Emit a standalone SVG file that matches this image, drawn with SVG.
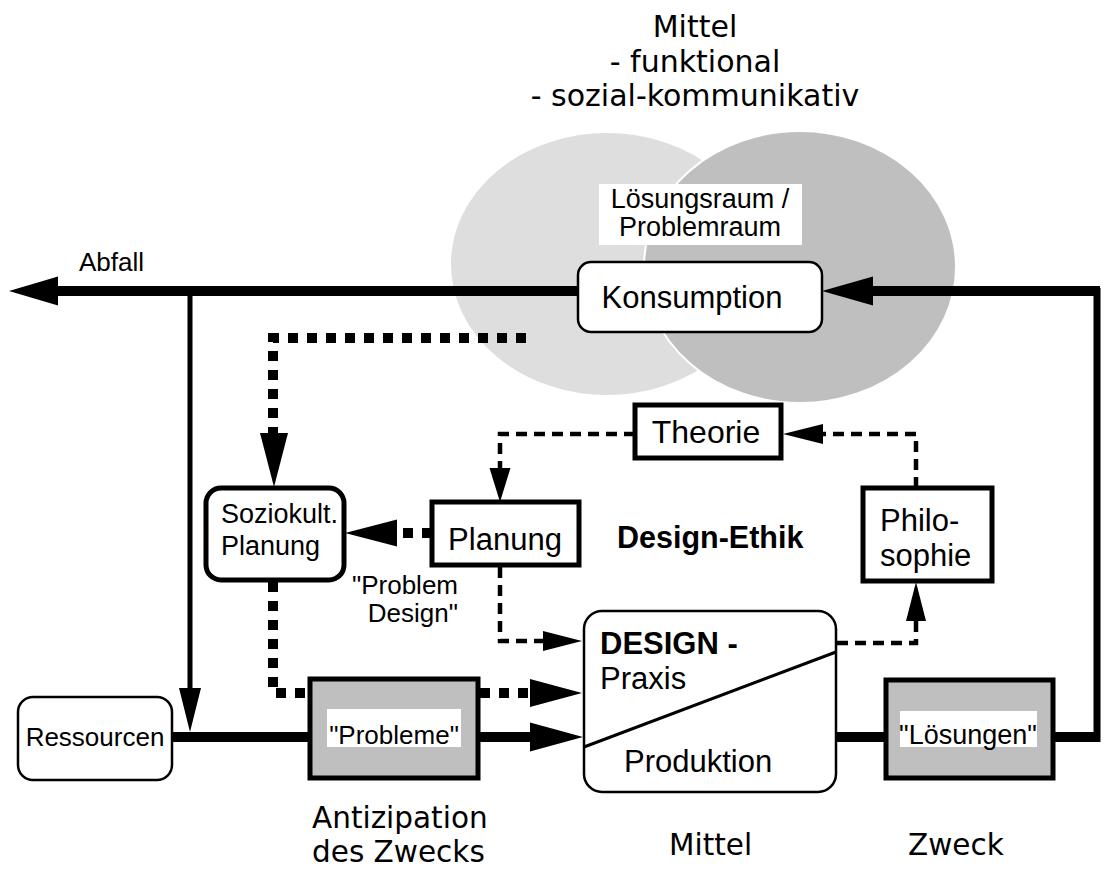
<svg xmlns="http://www.w3.org/2000/svg" width="1104" height="869" viewBox="0 0 1104 869">
<style>
.t{font-family:"Liberation Sans",Arial,sans-serif;fill:#000}
.g{font-family:"DejaVu Sans",sans-serif;font-size:30px;fill:#000}
.thick{fill:none;stroke:#000;stroke-width:10}
.dot{fill:none;stroke:#000;stroke-width:10;stroke-dasharray:10 9}
.dash{fill:none;stroke:#000;stroke-width:4.5;stroke-dasharray:11 7}
.box{fill:#fff;stroke:#000;stroke-width:5}
.rbox{fill:#fff;stroke:#000;stroke-width:2.5}
.gbox{fill:#bfbfbf;stroke:#000;stroke-width:5}
.ah{fill:#000}
</style>
<rect width="1104" height="869" fill="#fff"/>
<g id="title">
<text class="g" x="695" y="37" text-anchor="middle">Mittel</text>
<text class="g" x="695" y="72" text-anchor="middle">- funktional</text>
<text class="g" x="695" y="106" text-anchor="middle">- sozial-kommunikativ</text>
</g>
<g id="raum">
<ellipse cx="607" cy="264" rx="157" ry="132" fill="#dedede" stroke="#fff" stroke-width="2"/>
<ellipse cx="800" cy="267" rx="156" ry="136" fill="#bfbfbf" stroke="#fff" stroke-width="2"/>
<rect x="599" y="184" width="203" height="61" fill="#fff"/>
<text class="t" x="700" y="208" font-size="27" text-anchor="middle">Lösungsraum /</text>
<text class="t" x="700" y="236" font-size="27" text-anchor="middle">Problemraum</text>
</g>
<g id="connectors">
<path class="thick" d="M578,291 H58"/>
<polygon class="ah" points="9,291 58,276.5 58,305.5"/>
<text class="t" x="79" y="271" font-size="26">Abfall</text>
<path d="M190,291 V690" fill="none" stroke="#000" stroke-width="5"/>
<polygon class="ah" points="190,732 179,688 201,688"/>
<path class="thick" d="M172,737 H308"/>
<path class="thick" d="M478,737 H532"/>
<polygon class="ah" points="583,737 530,722.5 530,751.5"/>
<path class="thick" d="M836,737 H886"/>
<path class="thick" d="M1053,737 H1097"/>
<path d="M1097,742 V288" fill="none" stroke="#000" stroke-width="7"/>
<path class="thick" d="M1100,291 H871"/>
<polygon class="ah" points="822,291 873,276.5 873,305.5"/>
<path class="dot" d="M526,338 H273 V435"/>
<polygon class="ah" points="274,487 260,433 288,433"/>
<path class="dot" d="M432,533 H397"/>
<polygon class="ah" points="345,533 397,519.5 397,546.5"/>
<path class="dot" d="M273,582 V693 H310"/>
<path class="dot" d="M480,693 H530"/>
<polygon class="ah" points="582,693 530,679 530,707"/>
<path class="dash" d="M635,434 H500 V472"/>
<polygon class="ah" points="500,502 489.5,468 510.5,468"/>
<path class="dash" d="M916,488 V434 H821"/>
<polygon class="ah" points="783,434 823,424 823,444"/>
<path class="dash" d="M500,567 V641 H545"/>
<polygon class="ah" points="582,641 543,631 543,651"/>
<path class="dash" d="M837,643 H916 V619"/>
<polygon class="ah" points="916,582 906,621 926,621"/>
</g>
<g id="konsumption">
<rect class="rbox" x="578" y="262" width="244" height="70" rx="13" stroke-width="3"/>
<text class="t" x="692" y="308" font-size="31" text-anchor="middle">Konsumption</text>
</g>
<g id="theorie">
<rect class="box" x="635" y="405" width="146" height="53"/>
<text class="t" x="706" y="443" font-size="32" text-anchor="middle">Theorie</text>
</g>
<g id="planung">
<rect class="box" x="432" y="502" width="147" height="63"/>
<text class="t" x="505" y="550" font-size="31" text-anchor="middle">Planung</text>
</g>
<g id="soziokult">
<rect class="box" x="206" y="488" width="138" height="92" rx="15"/>
<text class="t" x="221" y="523" font-size="27">Soziokult.</text>
<text class="t" x="221" y="555" font-size="27">Planung</text>
</g>
<g id="problemdesign">
<text class="t" x="458" y="594" font-size="26" text-anchor="end">"Problem</text>
<text class="t" x="458" y="622" font-size="26" text-anchor="end">Design"</text>
</g>
<g id="ethik">
<text class="t" x="617" y="548" font-size="30.5" font-weight="bold">Design-Ethik</text>
</g>
<g id="philosophie">
<rect class="box" x="863" y="488" width="129" height="93"/>
<text class="t" x="880" y="531" font-size="31">Philo-</text>
<text class="t" x="880" y="566" font-size="31">sophie</text>
</g>
<g id="design">
<rect class="rbox" x="584" y="611" width="252" height="181" rx="18" stroke-width="3"/>
<line x1="584" y1="747" x2="836" y2="652" stroke="#000" stroke-width="3"/>
<text class="t" x="600" y="654" font-size="31" font-weight="bold">DESIGN -</text>
<text class="t" x="600" y="689" font-size="31">Praxis</text>
<text class="t" x="624" y="772" font-size="31">Produktion</text>
</g>
<g id="ressourcen">
<rect class="rbox" x="18" y="697" width="154" height="83" rx="15"/>
<text class="t" x="95" y="746" font-size="26" text-anchor="middle">Ressourcen</text>
</g>
<g id="probleme">
<rect class="gbox" x="310" y="679" width="168" height="99"/>
<rect x="327" y="709" width="134" height="38" fill="#fff"/>
<text class="t" x="394" y="744" font-size="26" text-anchor="middle">"Probleme"</text>
</g>
<g id="loesungen">
<rect class="gbox" x="886" y="680" width="167" height="98"/>
<rect x="900" y="711" width="137" height="36" fill="#fff"/>
<text class="t" x="968" y="744" font-size="27" text-anchor="middle">"Lösungen"</text>
</g>
<g id="labels">
<text class="g" x="312" y="828" font-size="29" style="font-size:29.5px">Antizipation</text>
<text class="g" x="312" y="862" style="font-size:29.5px">des Zwecks</text>
<text class="g" x="669" y="855" style="font-size:29.5px">Mittel</text>
<text class="g" x="908" y="855" style="font-size:29.5px">Zweck</text>
</g>
</svg>
